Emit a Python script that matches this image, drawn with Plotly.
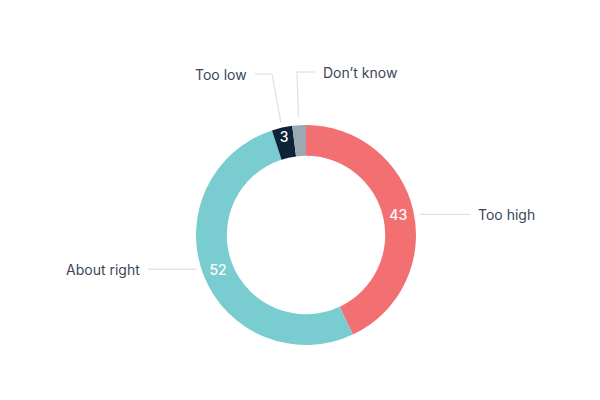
import math
import plotly.graph_objects as go

# data
labels = ["Too high", "About right", "Too low", "Don't know"]
values = [43, 52, 3, 2]
inside_text = ["43", "52", "3", ""]
colors = ["#F27072", "#79CDD0", "#0D2438", "#9DA9B0"]

W, H = 600, 400
OFF = 8  # page body margin
cx, cy, R = 306, 235, 110  # pie centre and outer radius in screen px


def px(x, y):
    return (x - OFF) / W, 1 - (y - OFF) / H


d0 = px(cx - R, cy + R)
d1 = px(cx + R, cy - R)

fig = go.Figure(go.Pie(
    labels=labels,
    values=values,
    text=inside_text,
    textinfo="text",
    textposition="inside",
    insidetextorientation="horizontal",
    textfont=dict(color="white", size=14, family="Inter", weight=500),
    marker=dict(colors=colors, line=dict(width=0)),
    hole=0.72,
    sort=False,
    direction="clockwise",
    rotation=0,
    domain=dict(x=[d0[0], d1[0]], y=[d0[1], d1[1]]),
    showlegend=False,
    hoverinfo="label+value",
))

# mid angle of every slice (degrees clockwise from 12 o'clock)
total = sum(values)
mids = []
acc = 0
for v in values:
    mids.append((acc + v / 2) / total * 360)
    acc += v


def pt(ang, r):
    a = math.radians(ang)
    return cx + r * math.sin(a), cy - r * math.cos(a)


line_col = "#DDE3EA"
shapes = []
annots = []
txt_font = dict(family="Inter", size=14, color="#3B4758")

# big slices: horizontal leader at text height
_, y0 = pt(mids[0], 95)
shapes.append((cx + math.sqrt(R**2 - (y0 - cy) ** 2) + 6, y0, 470, y0))
annots.append(("Too high", 476, y0, "left"))

_, y1 = pt(mids[1], 93)
shapes.append((cx - math.sqrt(R**2 - (y1 - cy) ** 2) - 5, y1, 148, y1))
annots.append(("About right", 142, y1, "right"))

# small slices: elbow leaders up to the labels
x2, y2 = pt(mids[2], 115)
shapes.append((x2, y2, 272, 74))
shapes.append((272, 74, 255, 74))
annots.append(("Too low", 249, 74, "right"))

x3, y3 = pt(mids[3], 118)
shapes.append((x3, y3, 297, 72))
shapes.append((297, 72, 315, 72))
annots.append(("Don\u2019t know", 321, 72, "left"))

for xa, ya, xb, yb in shapes:
    p0 = px(xa, ya)
    p1 = px(xb, yb)
    fig.add_shape(type="line", xref="paper", yref="paper",
                  x0=p0[0], y0=p0[1], x1=p1[0], y1=p1[1],
                  line=dict(color=line_col, width=1.3))

for t, x, y, anc in annots:
    p = px(x, y)
    fig.add_annotation(text=t, x=p[0], y=p[1], xref="paper", yref="paper",
                       xanchor=anc, yanchor="middle", showarrow=False, font=txt_font)

fig.update_layout(
    width=W, height=H,
    margin=dict(l=0, r=0, t=0, b=0),
    paper_bgcolor="white",
    plot_bgcolor="white",
)

fig.write_html("out.html")
